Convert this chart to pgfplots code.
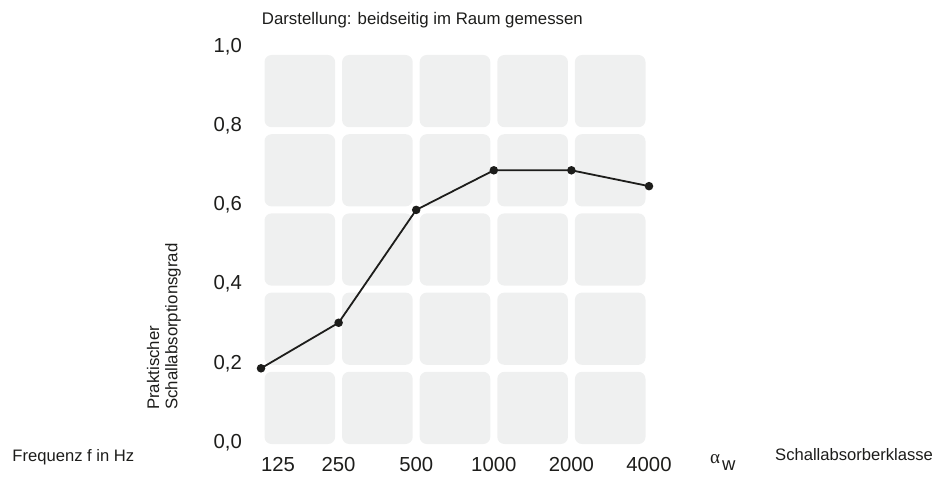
\documentclass[border=0pt]{standalone}
\usepackage{fontspec}
\setmainfont{Liberation Sans}
\newfontfamily\greekserif{Liberation Serif}
\usepackage{pgfplots}
\pgfplotsset{compat=1.18}
\definecolor{tile}{RGB}{239,240,240}
\definecolor{ink}{RGB}{29,29,27}
\begin{document}
\begin{tikzpicture}[x=1pt,y=1pt]
\useasboundingbox (0,0) rectangle (950,483);
% background tiles
\foreach \i in {0,...,4}{
  \foreach \j in {0,...,4}{
    \fill[tile, rounded corners=7pt] ({261+77.6*\i+3.5},{35.5+79.2*\j+3.5}) rectangle ({261+77.6*(\i+1)-3.5},{35.5+79.2*(\j+1)-3.5});
  }
}
\begin{axis}[
  at={(261pt,35.5pt)}, anchor=south west,
  scale only axis, width=388pt, height=396pt,
  xmin=0, xmax=5, ymin=0, ymax=1,
  clip=false,
  axis line style={draw=none},
  major tick length=0pt,
  tick style={draw=none},
  xtick={0,1,2,3,4,5},
  xticklabels={\makebox[0pt][l]{125},250,500,1000,2000,4000},
  ytick={0,0.2,0.4,0.6,0.8,1},
  yticklabels={{0,0},{0,2},{0,4},{0,6},{0,8},{1,0}},
  /pgf/number format/assume math mode=true,
  ticklabel style={font=\fontsize{20.3}{24}\selectfont, text=ink},
  xticklabel style={anchor=north, inner sep=0pt, yshift=-9.5pt},
  yticklabel style={anchor=east, inner sep=0pt, xshift=-19pt, yshift=5pt},
]
\addplot[color=ink, line width=1.8pt, mark=*, mark size=3.3pt, mark options={fill=ink, draw=ink}]
  coordinates {(0,0.20) (1,0.315) (2,0.60) (3,0.70) (4,0.70) (5,0.66)};
\end{axis}
\node[anchor=base west, inner sep=0pt, font=\fontsize{16.8}{20}\selectfont, text=ink] at (261.7,458.5) {Darstellung: beidseitig im Raum gemessen};
\node[anchor=base west, inner sep=0pt, font=\fontsize{16.6}{20}\selectfont, text=ink] at (12.3,21.3) {Frequenz f in Hz};
\node[anchor=base west, inner sep=0pt, font=\fontsize{16.6}{20}\selectfont, text=ink] at (775,23) {Schallabsorberklasse};
\node[anchor=base west, inner sep=0pt, font=\greekserif\fontsize{19}{20}\selectfont, text=ink] at (710,19.7) {α};
\node[anchor=base west, inner sep=0pt, font=\fontsize{18.5}{20}\selectfont, text=ink] at (722,12.3) {w};
\node[anchor=base west, inner sep=0pt, rotate=90, font=\fontsize{16.8}{20}\selectfont, text=ink] at (159,73) {Praktischer};
\node[anchor=base west, inner sep=0pt, rotate=90, font=\fontsize{16.8}{20}\selectfont, text=ink] at (177.3,73) {Schallabsorptionsgrad};
\end{tikzpicture}
\end{document}
